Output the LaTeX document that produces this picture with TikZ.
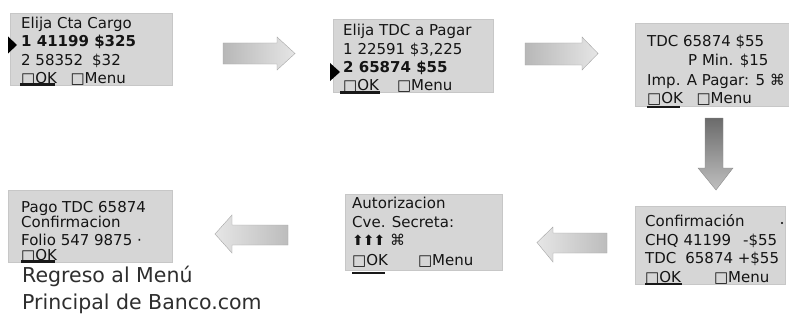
\documentclass[tikz,border=0pt]{standalone}
\usepackage{fontspec}
\setmainfont{DejaVu Sans}
\begin{document}
\begin{tikzpicture}[x=1pt,y=-1pt,
  scr/.style={fill=black!16, draw=black!22, line width=0.4pt},
  txt/.style={anchor=base west, inner sep=0pt, text=black!92, font=\fontsize{15}{18}\selectfont},
  big/.style={anchor=base west, inner sep=0pt, text=black!82, font=\fontsize{20.5}{26}\selectfont},
  sel/.style={fill=black},
  uline/.style={line width=2.2pt, black!90},
  harrow/.style={left color=black!28, right color=black!10, draw=black!35, line width=0.4pt},
  larrow/.style={left color=black!10, right color=black!26, draw=black!35, line width=0.4pt},
  varrow/.style={top color=black!58, bottom color=black!25, draw=black!45, line width=0.4pt}]
\useasboundingbox (0,0) rectangle (789,321);
\fill[white] (0,0) rectangle (789,321);

% screens
\path[scr] (10,13) rectangle (172,85);
\path[scr] (333,19) rectangle (493,92);
\path[scr] (635,23) rectangle (789,106);
\path[scr] (635,206) rectangle (785,284);
\path[scr] (345,194) rectangle (502,270);
\path[scr] (8,190) rectangle (172,262);

% screen 1
\node[txt] (a1) at (21,29) {Elija Cta Cargo};
\node[txt] (a2) at (21,47) {\bfseries 1 41199 \$325};
\node[txt] (a3) at (21,65) {2 58352\hspace{0.6em}\$32};
\node[txt] (a4) at (21,83) {□OK\hspace{0.9em}□Menu};
\fill[sel] (8,36.5) -- (17,45) -- (8,53.5) -- cycle;
\draw[uline] (20,84.5) -- (55,84.5);

% screen 2
\node[txt] (b1) at (343,36) {Elija TDC a Pagar};
\node[txt] (b2) at (343,55) {1 22591 \$3,225};
\node[txt] (b3) at (343,73) {\bfseries 2 65874 \$55};
\node[txt] (b4) at (343,90) {□OK\hspace{1.2em}□Menu};
\fill[sel] (330,63) -- (340,72) -- (330,81) -- cycle;
\draw[uline] (340,92.5) -- (380,92.5);

% screen 3
\node[txt] (c1) at (647,47) {TDC 65874 \$55};
\node[txt] (c2) at (688,66) {P Min. \$15};
\node[txt] (c3) at (647,85) {Imp. A Pagar: 5 ⌘};
\node[txt] (c4) at (647,103) {□OK\hspace{0.9em}□Menu};
\draw[uline] (647,107) -- (680,107);

% screen 6 (confirmacion)
\node[txt] (d1) at (645,226) {Confirmación};
\node[txt] (d2) at (645,245) {CHQ 41199\hspace{0.8em}-\$55};
\node[txt] (d3) at (645,263) {TDC\hspace{0.6em}65874 +\$55};
\node[txt] (d4) at (645,282) {□OK\hspace{2.2em}□Menu};
\fill[black] (782,223) circle (1.2pt);
\draw[uline] (645,284) -- (682,284);

% screen 5 (autorizacion)
\node[txt] (e1) at (352,208) {Autorizacion};
\node[txt] (e2) at (352,227) {Cve. Secreta:};
\node[txt] (e3) at (352,245) {{\fontsize{14}{14}\selectfont ⬆\kern-1pt⬆\kern-1pt⬆} ⌘};
\node[txt] (e4) at (352,265) {□OK\hspace{2em}□Menu};
\draw[uline] (352,273) -- (385,273);

% screen 4 (pago)
\node[txt] (f1) at (21,212) {Pago TDC 65874};
\node[txt] (f2) at (21,227) {Confirmacion};
\node[txt] (f3) at (21,245) {Folio 547 9875 ·};
\node[txt] (f4) at (21,260) {□OK};
\draw[uline] (21,261.5) -- (55,261.5);

% caption
\node[big] (g1) at (22,282) {Regreso al Menú};
\node[big] (g2) at (22,309) {Principal de Banco.com};

% block arrows
\path[harrow] (223,43) -- (277,43) -- (277,37) -- (295,53.5) -- (277,70) -- (277,64) -- (223,64) -- cycle;
\path[harrow] (525,43) -- (582,43) -- (582,37) -- (598,53.5) -- (582,70) -- (582,65) -- (525,65) -- cycle;
\path[varrow] (705,118) -- (723,118) -- (723,168) -- (733,168) -- (716,190) -- (698,168) -- (705,168) -- cycle;
\path[larrow] (607,233) -- (553,233) -- (553,227) -- (537,242.5) -- (553,262) -- (553,253) -- (607,253) -- cycle;
\path[larrow] (288,225) -- (232,225) -- (232,215) -- (215,234) -- (232,253) -- (232,245) -- (288,245) -- cycle;
\end{tikzpicture}
\end{document}
